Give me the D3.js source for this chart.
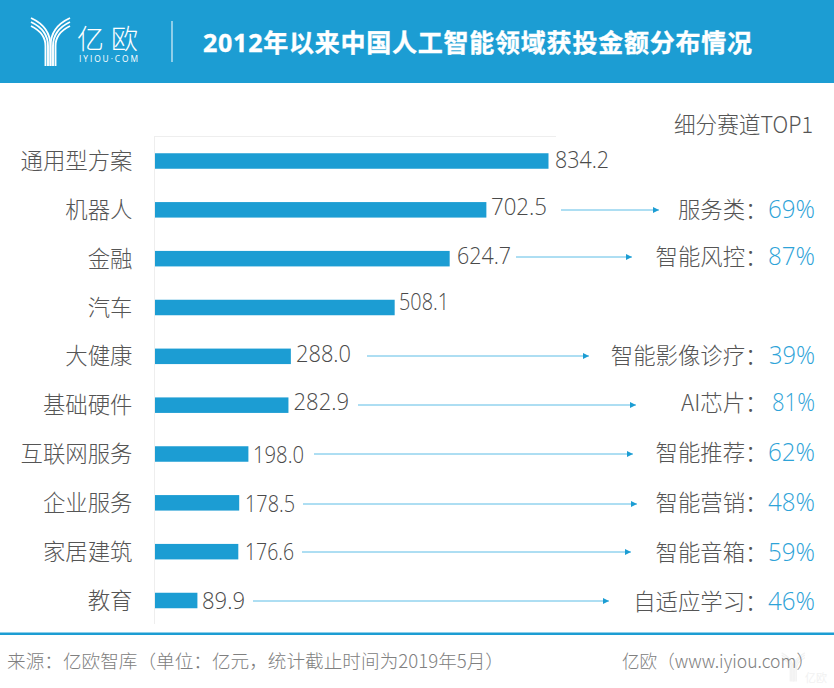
<!DOCTYPE html>
<html>
<head>
<meta charset="utf-8">
<script src="https://cdn.jsdelivr.net/npm/d3@7"></script>
<style>
    html, body { margin: 0; padding: 0; background: #fff; }
    svg { display: block; }
    text { font-family: "Noto Sans CJK SC", "Open Sans", sans-serif; }
    .latin { font-family: "Open Sans", "Noto Sans CJK SC", sans-serif; font-weight: 300; }
</style>
</head>
<body>
<div id="chart"></div>
<script>
const width = 834, height = 688;
const blue = "#1c9dd3";
const grey = "#555555";

// labelX/labelW/labelY place the value text, arrowFrom/arrowTo/arrowY the leader line,
// shareY/shareW the percentage: the original was laid out by hand, so these vary per row
const rows = [
    { name: "通用型方案", value: 834.2, labelX: 555, labelW: 54, labelY: 168 },
    { name: "机器人", value: 702.5, labelX: 491, labelW: 56, labelY: 215, top: "服务类", share: "69%", shareY: 218, shareW: 47, arrowFrom: 561, arrowTo: 659, arrowY: 210 },
    { name: "金融", value: 624.7, labelX: 457, labelW: 54, labelY: 264, top: "智能风控", share: "87%", shareY: 265, shareW: 47, arrowFrom: 516, arrowTo: 632, arrowY: 257 },
    { name: "汽车", value: 508.1, labelX: 399, labelW: 50, labelY: 310 },
    { name: "大健康", value: 288.0, labelX: 296, labelW: 55, labelY: 361.5, top: "智能影像诊疗", share: "39%", shareY: 363.5, shareW: 46, arrowFrom: 367, arrowTo: 589, arrowY: 356 },
    { name: "基础硬件", value: 282.9, labelX: 293.5, labelW: 55.5, labelY: 409.5, top: "AI芯片", share: "81%", shareY: 411, shareW: 43, arrowFrom: 358, arrowTo: 636, arrowY: 405 },
    { name: "互联网服务", value: 198.0, labelX: 253, labelW: 51, labelY: 463, top: "智能推荐", share: "62%", shareY: 461, shareW: 47, arrowFrom: 314, arrowTo: 633, arrowY: 454 },
    { name: "企业服务", value: 178.5, labelX: 245, labelW: 50, labelY: 511.5, top: "智能营销", share: "48%", shareY: 510.5, shareW: 47, arrowFrom: 303, arrowTo: 637, arrowY: 504 },
    { name: "家居建筑", value: 176.6, labelX: 245, labelW: 49, labelY: 560, top: "智能音箱", share: "59%", shareY: 560.5, shareW: 47, arrowFrom: 302, arrowTo: 631, arrowY: 552 },
    { name: "教育", value: 89.9, labelX: 202, labelW: 43, labelY: 609, top: "自适应学习", share: "46%", shareY: 610, shareW: 47, arrowFrom: 253, arrowTo: 609, arrowY: 601 }
];

const svg = d3.select("#chart").append("svg")
    .attr("width", width)
    .attr("height", height);

svg.append("defs").append("marker")
    .attr("id", "arrow")
    .attr("viewBox", "0 0 6 6")
    .attr("refX", 6).attr("refY", 3)
    .attr("markerWidth", 6).attr("markerHeight", 6)
    .attr("markerUnits", "userSpaceOnUse")
    .attr("orient", "auto")
    .append("path")
    .attr("d", "M0,0L6,3L0,6Z")
    .attr("fill", blue);

const drawLogo = (g, strokeWidth) => {
    g.attr("fill", "none").attr("stroke-width", strokeWidth);
    [0, 1, 2].forEach(i => {
        const top = 18 + i * 4;
        g.append("path").attr("d", `M${50.5 - i * 2.5},66 L${50.5 - i * 2.5},46 Q${50.5 - i * 2.5},${27 + i * 3} 31,${top}`);
        g.append("path").attr("d", `M${50.5 + i * 2.5},66 L${50.5 + i * 2.5},46 Q${50.5 + i * 2.5},${27 + i * 3} 70,${top}`);
    });
};

// header
svg.append("rect").attr("width", width).attr("height", 83).attr("fill", blue);
drawLogo(svg.append("g").attr("stroke", "#fff"), 1.9);
svg.append("text").attr("x", 77).attr("y", 49)
    .attr("fill", "#fff").attr("font-size", 27).attr("font-weight", 300)
    .attr("textLength", 61).text("亿欧");
svg.append("text").attr("class", "latin").attr("x", 79).attr("y", 62)
    .attr("fill", "#fff").attr("font-size", 8.4).style("font-weight", 400)
    .attr("textLength", 59).text("IYIOU·COM");
svg.append("line").attr("x1", 172).attr("x2", 172).attr("y1", 21).attr("y2", 62)
    .attr("stroke", "#fff").attr("stroke-width", 1.2).attr("opacity", 0.85);
svg.append("text").attr("x", 203).attr("y", 52)
    .style("font-family", "'Open Sans', 'Noto Sans CJK SC', sans-serif")
    .attr("fill", "#fff").attr("stroke", "#fff").attr("stroke-width", 0.35)
    .attr("font-size", 25).attr("font-weight", 700)
    .attr("textLength", 549)
    .text("2012年以来中国人工智能领域获投金额分布情况");

// chart
const x = d3.scaleLinear().domain([0, 834.2]).range([155, 548.5]);
const y = d3.scalePoint().domain(rows.map(d => d.name)).range([161, 600.5]);

svg.append("line").attr("x1", 155).attr("x2", 556).attr("y1", 136.5).attr("y2", 136.5)
    .attr("stroke", "#eeeeee");
svg.append("line").attr("x1", 154.5).attr("x2", 154.5).attr("y1", 136).attr("y2", 624)
    .attr("stroke", "#eeeeee");

svg.selectAll(".bar").data(rows).join("rect")
    .attr("class", "bar")
    .attr("x", x(0))
    .attr("y", d => y(d.name) - 7.75)
    .attr("width", d => x(d.value) - x(0))
    .attr("height", 15.5)
    .attr("fill", blue);

svg.selectAll(".name").data(rows).join("text")
    .attr("class", "name")
    .attr("x", 132.5)
    .attr("y", d => y(d.name) + 8)
    .attr("text-anchor", "end")
    .attr("fill", grey).attr("font-size", 22.4).attr("font-weight", 300)
    .text(d => d.name);

svg.selectAll(".value").data(rows).join("text")
    .attr("class", "value latin")
    .attr("x", d => d.labelX)
    .attr("y", d => d.labelY)
    .attr("fill", "#4a4a4a").attr("font-size", 24)
    .attr("textLength", d => d.labelW)
    .attr("lengthAdjust", "spacingAndGlyphs")
    .text(d => d.value.toFixed(1));

const withTop = rows.filter(d => d.top);

svg.selectAll(".leader").data(withTop).join("line")
    .attr("class", "leader")
    .attr("x1", d => d.arrowFrom)
    .attr("x2", d => d.arrowTo)
    .attr("y1", d => d.arrowY)
    .attr("y2", d => d.arrowY)
    .attr("stroke", "#5dbde6").attr("stroke-width", 1)
    .attr("marker-end", "url(#arrow)");

svg.selectAll(".top").data(withTop).join("text")
    .attr("class", "top")
    .attr("x", 767.5)
    .attr("y", d => d.shareY)
    .attr("text-anchor", "end")
    .attr("fill", grey).attr("font-size", 22.4).attr("font-weight", 300)
    .text(d => d.top + "：");

svg.selectAll(".share").data(withTop).join("text")
    .attr("class", "share latin")
    .attr("x", d => 815 - d.shareW)
    .attr("y", d => d.shareY)
    .attr("fill", "#2ea3d8").attr("font-size", 25.5)
    .attr("textLength", d => d.shareW)
    .attr("lengthAdjust", "spacingAndGlyphs")
    .text(d => d.share);

svg.append("text").attr("x", 674).attr("y", 133)
    .attr("fill", grey).attr("font-size", 22.4).attr("font-weight", 300)
    .attr("textLength", 139).attr("lengthAdjust", "spacingAndGlyphs")
    .text("细分赛道TOP1");

// footer, watermark goes under the text
svg.append("rect").attr("x", 0).attr("y", 632.5).attr("width", width).attr("height", 2.5).attr("fill", blue);
drawLogo(svg.append("g").attr("stroke", "#f3f3f3")
    .attr("transform", "translate(763,642) scale(0.6)"), 2.4);
svg.append("text").attr("x", 805).attr("y", 682)
    .attr("fill", "#f1f1f1").attr("font-size", 11).text("亿欧");

svg.append("text").attr("x", 7).attr("y", 668)
    .attr("fill", "#808080").attr("font-size", 18.5).attr("font-weight", 300)
    .attr("textLength", 497).attr("lengthAdjust", "spacingAndGlyphs")
    .text("来源：亿欧智库（单位：亿元，统计截止时间为2019年5月）");
svg.append("text").attr("x", 622).attr("y", 668)
    .attr("fill", "#808080").attr("font-size", 18.5).attr("font-weight", 300)
    .attr("textLength", 192).attr("lengthAdjust", "spacingAndGlyphs")
    .text("亿欧（www.iyiou.com）");
</script>
</body>
</html>
